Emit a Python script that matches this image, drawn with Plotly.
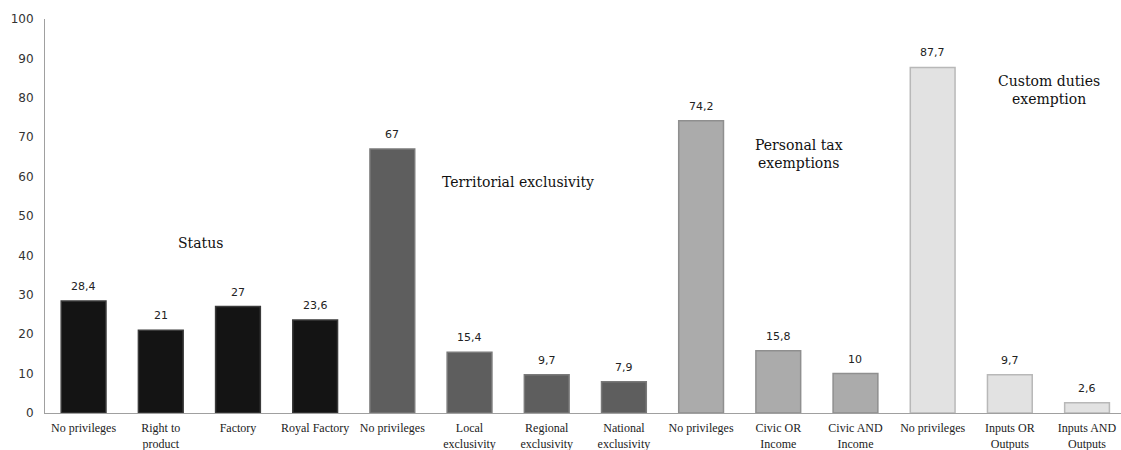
import plotly.graph_objects as go

tick_labels = ["No privileges", "Right to<br>product", "Factory", "Royal Factory",
               "No privileges", "Local<br>exclusivity", "Regional<br>exclusivity", "National<br>exclusivity",
               "No privileges", "Civic OR<br>Income", "Civic AND<br>Income",
               "No privileges", "Inputs OR<br>Outputs", "Inputs AND<br>Outputs"]
values = [28.4, 21, 27, 23.6, 67, 15.4, 9.7, 7.9, 74.2, 15.8, 10, 87.7, 9.7, 2.6]
groups = ["Status"] * 4 + ["Territorial exclusivity"] * 4 + ["Personal tax exemptions"] * 3 + ["Custom duties exemption"] * 3
group_titles = ["Status", "Territorial exclusivity", "Personal tax<br>exemptions", "Custom duties<br>exemption"]
group_title_x = [1.51, 5.63, 9.27, 12.51]
group_title_y = [43.1, 58.6, 65.7, 82.0]
y_ticks = list(range(0, 101, 10))

group_fill = {"Status": "#141414", "Territorial exclusivity": "#5e5e5e",
              "Personal tax exemptions": "#ababab", "Custom duties exemption": "#e2e2e2"}
group_line = {"Status": "#3a3a3a", "Territorial exclusivity": "#7a7a7a",
              "Personal tax exemptions": "#8f8f8f", "Custom duties exemption": "#b8b8b8"}

xs = list(range(len(values)))
labels = [str(v).replace(".", ",") for v in values]

fig = go.Figure()
fig.add_trace(go.Bar(
    x=xs, y=values, width=0.58,
    marker=dict(color=[group_fill[g] for g in groups],
                line=dict(color=[group_line[g] for g in groups], width=1.5)),
    showlegend=False, hoverinfo="skip",
))

for x, v, lab in zip(xs, values, labels):
    fig.add_annotation(x=x, y=v, text=lab, showarrow=False, xref="x", yref="y",
                       yanchor="bottom", yshift=6,
                       font=dict(family="DejaVu Sans", size=11, color="#222222"))

for t, x, y in zip(group_titles, group_title_x, group_title_y):
    fig.add_annotation(x=x, y=y, text=t, showarrow=False, xref="x", yref="y",
                       font=dict(family="DejaVu Serif", size=14, color="#111111"))

fig.update_layout(
    width=1121, height=450,
    margin=dict(l=45, r=0, t=19, b=37),
    paper_bgcolor="white", plot_bgcolor="white",
    font=dict(family="Liberation Serif", color="#222222"),
)
fig.update_xaxes(range=[-0.5, 13.44], tickvals=xs, ticktext=tick_labels,
                 showline=True, linecolor="#a0a0a0", linewidth=1,
                 showgrid=False, zeroline=False, ticks="", ticklabelstandoff=4,
                 tickfont=dict(family="Liberation Serif", size=12, color="#222222"))
fig.update_yaxes(range=[0, 100], tickvals=y_ticks,
                 showline=True, linecolor="#a0a0a0", linewidth=1,
                 showgrid=False, zeroline=False, ticks="", ticklabelstandoff=8,
                 tickfont=dict(family="DejaVu Sans", size=12, color="#333333"))

fig.write_html("out.html")
